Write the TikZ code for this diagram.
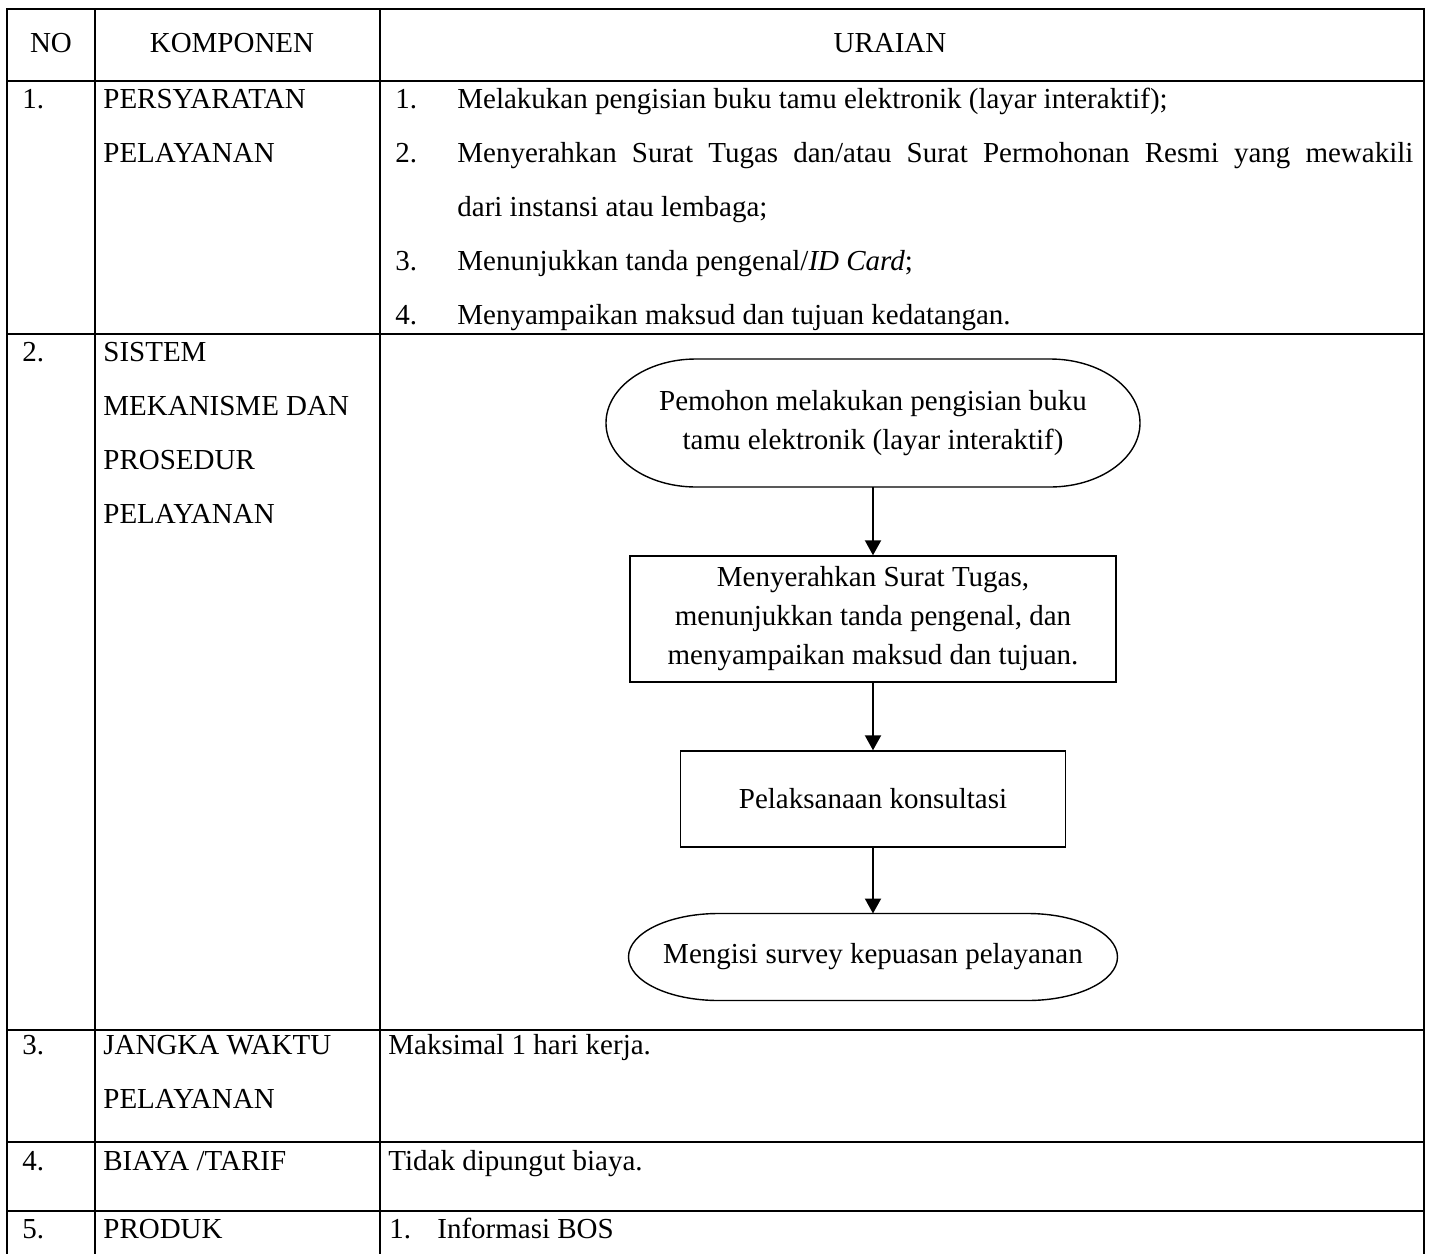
\documentclass[tikz,border=0pt]{standalone}
\usepackage{fontspec}
\setmainfont{Liberation Serif}
\usetikzlibrary{arrows.meta}
\newcommand{\tabelfont}{\fontsize{14.5}{27}\selectfont}
\newcommand{\alurfont}{\fontsize{14.5}{19.5}\selectfont}
\tikzset{
	garis/.style={line width=1pt},
	judul/.style={anchor=base, inner sep=0pt, font=\tabelfont},
	isi/.style={anchor=base west, inner sep=0pt, font=\tabelfont, align=left},
	komponen/.style={isi, text width=138pt, align=flush left},
	kotak/.style={draw, line width=0.7pt, inner sep=0pt, font=\alurfont, align=center},
	terminal/.style={inner sep=0pt, outer sep=0pt, font=\alurfont, align=center},
	panah/.style={line width=1pt, -{Triangle[length=7.5pt,width=8pt]}}
}

\begin{document}
\begin{tikzpicture}[x=0.5pt,y=-0.5pt]
		\useasboundingbox (0,0) rectangle (1432,1254);

		% kerangka tabel
		\draw[garis] (7,1254) -- (7,9) -- (1424,9) -- (1424,1254);
		\foreach \x in {95,380}
			\draw[garis] (\x,9) -- (\x,1254);
		\foreach \y in {81,334,1030,1142,1211}
			\draw[garis] (7,\y) -- (1424,\y);

		% kepala tabel
		\node[judul] (hNo) at (51,52) {NO};
		\node[judul] (hKomponen) at (232,52) {KOMPONEN};
		\node[judul] (hUraian) at (890,52) {URAIAN};

		% nomor dan komponen
		\node[isi] (no1) at (22,108) {1.};
		\node[isi] (no2) at (22,361) {2.};
		\node[isi] (no3) at (22,1054) {3.};
		\node[isi] (no4) at (22,1170) {4.};
		\node[isi] (no5) at (22,1238) {5.};
		\node[komponen] (kSyarat) at (103,108) {PERSYARATAN\\PELAYANAN};
		\node[komponen] (kSistem) at (103,361) {SISTEM\\MEKANISME DAN\\PROSEDUR\\PELAYANAN};
		\node[komponen] (kWaktu) at (103,1054) {JANGKA WAKTU\\PELAYANAN};
		\node[isi] (kBiaya) at (103,1170) {BIAYA /TARIF};
		\node[isi] (kProduk) at (103,1238) {PRODUK};

		% uraian persyaratan
		\node[isi] (s1no) at (395,108) {1.};
		\node[isi] (s2no) at (395,162) {2.};
		\node[isi] (s3no) at (395,270) {3.};
		\node[isi] (s4no) at (395,324) {4.};
		\node[isi] (s1) at (457,108) {Melakukan pengisian buku tamu elektronik (layar interaktif);};
		\node[isi, text width=478pt, align=justify] (s2) at (457,162)
			{Menyerahkan Surat Tugas dan/atau Surat Permohonan Resmi yang mewakili\linebreak
			dari instansi atau lembaga;};
		\node[isi] (s3) at (457,270) {Menunjukkan tanda pengenal/\textit{ID Card};};
		\node[isi] (s4) at (457,324) {Menyampaikan maksud dan tujuan kedatangan.};

		% alur pelayanan
		\node[terminal, minimum width=267pt, minimum height=64pt] (mulai) at (873,423)
			{Pemohon melakukan pengisian buku\\tamu elektronik (layar interaktif)};
		\node[kotak, minimum width=243pt, minimum height=63pt] (serah) at (873,619)
			{Menyerahkan Surat Tugas,\\menunjukkan tanda pengenal, dan\\menyampaikan maksud dan tujuan.};
		\node[kotak, minimum width=192.5pt, minimum height=48pt] (konsul) at (873,799)
			{Pelaksanaan konsultasi};
		\node[terminal, minimum width=244.5pt, minimum height=43.5pt] (survei) at (873,957)
			{Mengisi survey kepuasan pelayanan};
		\foreach \n/\ry in {mulai/32pt,survei/21.75pt}
			\draw[line width=0.7pt] ([xshift=45pt]\n.north west) -- ([xshift=-45pt]\n.north east)
				arc[start angle=90, end angle=-90, x radius=45pt, y radius=\ry]
				-- ([xshift=45pt]\n.south west)
				arc[start angle=270, end angle=90, x radius=45pt, y radius=\ry] -- cycle;
		\draw[panah] (mulai) -- (serah);
		\draw[panah] (serah) -- (konsul);
		\draw[panah] (konsul) -- (survei);

		% uraian lainnya
		\node[isi] (waktu) at (388,1054) {Maksimal 1 hari kerja.};
		\node[isi] (biaya) at (388,1170) {Tidak dipungut biaya.};
		\node[isi] (p1no) at (389,1238) {1.};
		\node[isi] (p1) at (437,1238) {Informasi BOS};
\end{tikzpicture}
\end{document}
